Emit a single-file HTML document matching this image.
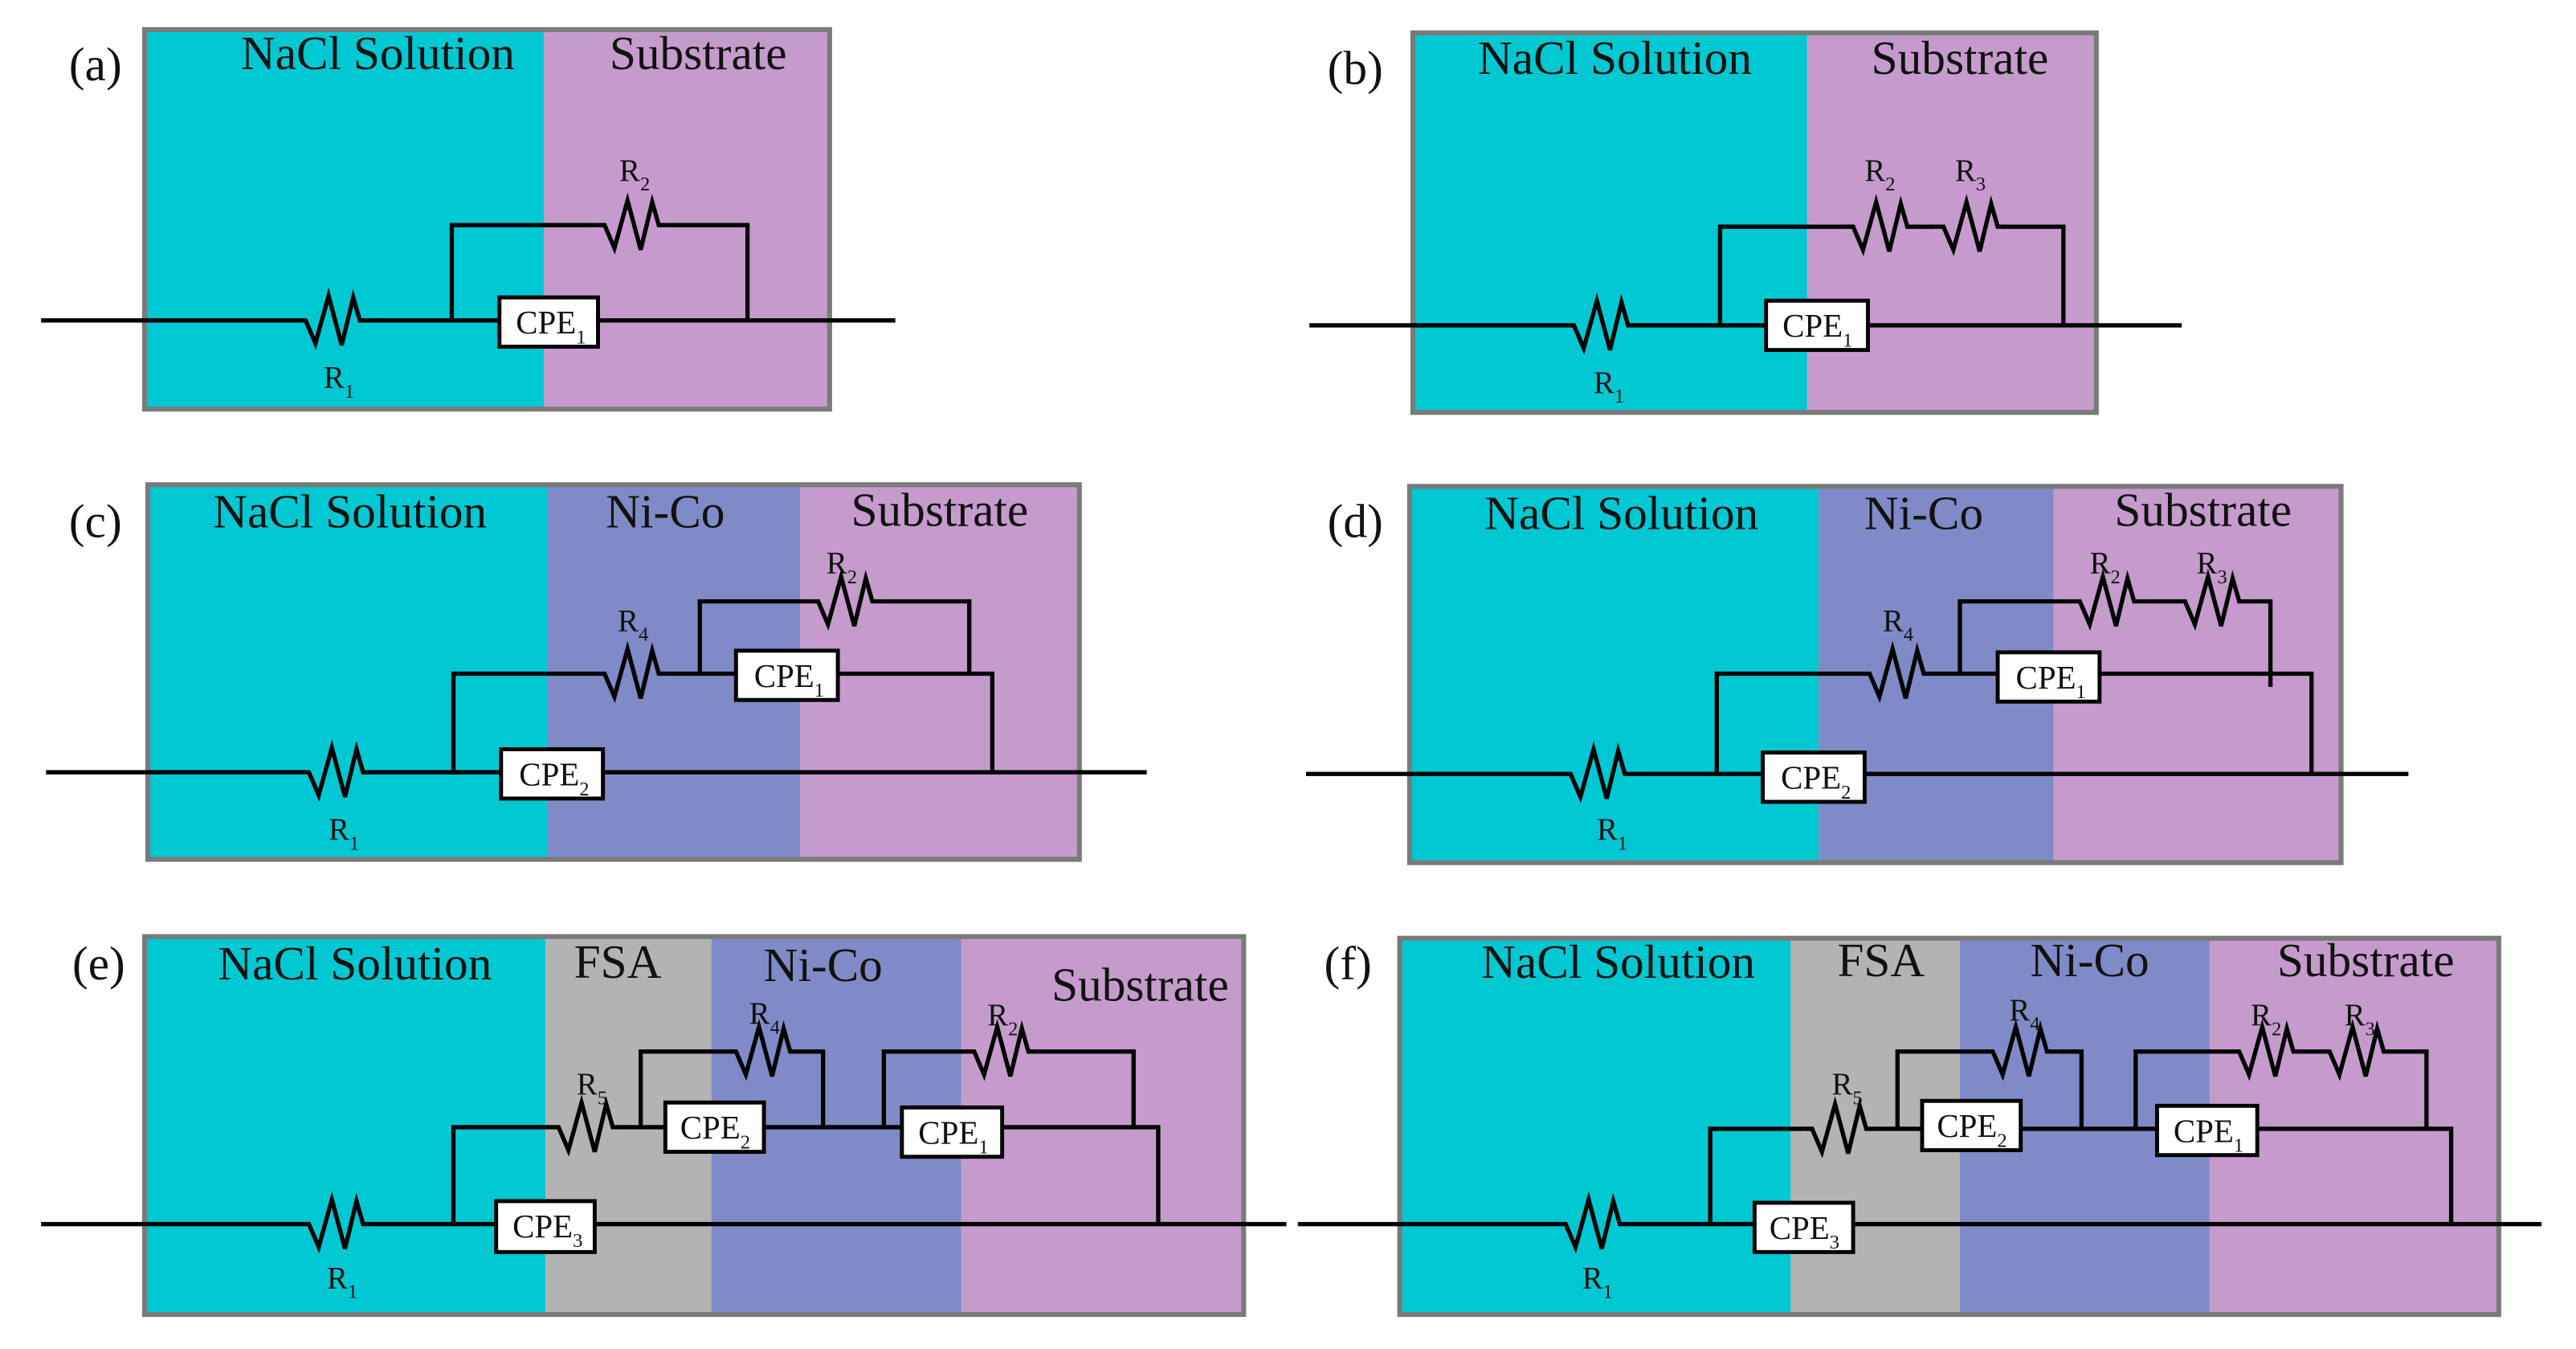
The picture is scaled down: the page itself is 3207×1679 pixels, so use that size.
<!DOCTYPE html>
<html><head><meta charset="utf-8"><style>
html,body{margin:0;padding:0;background:#fff;}
svg{display:block;}
text{font-family:"Liberation Serif",serif;fill:#111;}
.t{font-size:29px;}
.r{font-size:19px;}
.s{font-size:12px;}
.c{font-size:20px;}
.w{stroke:#000;stroke-width:2.6;fill:none;stroke-linejoin:miter;}
.b{fill:#fff;stroke:#000;stroke-width:2.4;}
.f{fill:none;stroke:#7a7a7a;stroke-width:3;}
</style></head><body>
<svg width="3207" height="1679" viewBox="0 0 1568 821" preserveAspectRatio="none" xmlns="http://www.w3.org/2000/svg">
<defs>
<path id="z" d="M-22,0 L-17,0 L-11,14 L-3,-15 L5,15 L12,-14 L16,0 L22,0" style="stroke:#000;stroke-width:2.6;fill:none"/>
</defs>

<!-- (a) -->
<rect x="88" y="18" width="243" height="231" fill="#00c8d2"/>
<rect x="331" y="18" width="174" height="231" fill="#c59bcc"/>
<rect x="88" y="18" width="417" height="231" class="f"/>
<text x="42" y="49" class="t">(a)</text>
<text x="230" y="42" class="t" text-anchor="middle">NaCl Solution</text>
<text x="425" y="42" class="t" text-anchor="middle">Substrate</text>
<path class="w" d="M25,195 H181 M225,195 H304 M364,195 H545 M275,195 V137 H363 M407,137 H455 V195"/>
<use href="#z" x="203" y="195"/><use href="#z" x="385" y="137"/>
<rect class="b" x="304" y="181" width="60" height="30"/><text x="314" y="203" class="c">CPE<tspan class="s" dy="6">1</tspan></text>
<text x="197" y="236" class="r">R<tspan class="s" dy="6">1</tspan></text>
<text x="377" y="110" class="r">R<tspan class="s" dy="6">2</tspan></text>

<!-- (b) -->
<rect x="860" y="20" width="240" height="231" fill="#00c8d2"/>
<rect x="1100" y="20" width="176" height="231" fill="#c59bcc"/>
<rect x="860" y="20" width="416" height="231" class="f"/>
<text x="808" y="51" class="t">(b)</text>
<text x="983" y="45" class="t" text-anchor="middle">NaCl Solution</text>
<text x="1193" y="45" class="t" text-anchor="middle">Substrate</text>
<path class="w" d="M797,198 H953 M997,198 H1075 M1137,198 H1328 M1047,198 V138 H1123 M1167,138 H1178 M1222,138 H1256 V198"/>
<use href="#z" x="975" y="198"/><use href="#z" x="1145" y="138"/><use href="#z" x="1200" y="138"/>
<rect class="b" x="1075" y="183" width="62" height="30"/><text x="1085" y="205" class="c">CPE<tspan class="s" dy="6">1</tspan></text>
<text x="970" y="239" class="r">R<tspan class="s" dy="6">1</tspan></text>
<text x="1135" y="110" class="r">R<tspan class="s" dy="6">2</tspan></text>
<text x="1190" y="110" class="r">R<tspan class="s" dy="6">3</tspan></text>

<!-- (c) -->
<rect x="90" y="295" width="243" height="228" fill="#00c8d2"/>
<rect x="333" y="295" width="154" height="228" fill="#7f8ac6"/>
<rect x="487" y="295" width="170" height="228" fill="#c59bcc"/>
<rect x="90" y="295" width="567" height="228" class="f"/>
<text x="42" y="327" class="t">(c)</text>
<text x="213" y="321" class="t" text-anchor="middle">NaCl Solution</text>
<text x="405" y="321" class="t" text-anchor="middle">Ni-Co</text>
<text x="572" y="320" class="t" text-anchor="middle">Substrate</text>
<path class="w" d="M28,470 H183 M227,470 H305 M367,470 H698 M276,470 V410 H363 M407,410 H448 M510,410 H604 V470 M426,410 V366 H493 M537,366 H590 V410"/>
<use href="#z" x="205" y="470"/><use href="#z" x="385" y="410"/><use href="#z" x="515" y="366"/>
<rect class="b" x="448" y="396" width="62" height="30"/><text x="459" y="418" class="c">CPE<tspan class="s" dy="6">1</tspan></text>
<rect class="b" x="305" y="456" width="62" height="30"/><text x="316" y="478" class="c">CPE<tspan class="s" dy="6">2</tspan></text>
<text x="200" y="511" class="r">R<tspan class="s" dy="6">1</tspan></text>
<text x="376" y="384" class="r">R<tspan class="s" dy="6">4</tspan></text>
<text x="503" y="349" class="r">R<tspan class="s" dy="6">2</tspan></text>

<!-- (d) -->
<rect x="858" y="296" width="249" height="229" fill="#00c8d2"/>
<rect x="1107" y="296" width="143" height="229" fill="#7f8ac6"/>
<rect x="1250" y="296" width="175" height="229" fill="#c59bcc"/>
<rect x="858" y="296" width="567" height="229" class="f"/>
<text x="808" y="327" class="t">(d)</text>
<text x="987" y="322" class="t" text-anchor="middle">NaCl Solution</text>
<text x="1171" y="322" class="t" text-anchor="middle">Ni-Co</text>
<text x="1341" y="320" class="t" text-anchor="middle">Substrate</text>
<path class="w" d="M795,471 H951 M995,471 H1073 M1135,471 H1466 M1045,471 V410 H1133 M1177,410 H1216 M1278,410 H1407 V471 M1193,410 V366 H1261 M1305,366 H1325 M1369,366 H1382 V418"/>
<use href="#z" x="973" y="471"/><use href="#z" x="1155" y="410"/><use href="#z" x="1283" y="366"/><use href="#z" x="1347" y="366"/>
<rect class="b" x="1216" y="397" width="62" height="30"/><text x="1227" y="419" class="c">CPE<tspan class="s" dy="6">1</tspan></text>
<rect class="b" x="1073" y="458" width="62" height="30"/><text x="1084" y="480" class="c">CPE<tspan class="s" dy="6">2</tspan></text>
<text x="972" y="511" class="r">R<tspan class="s" dy="6">1</tspan></text>
<text x="1146" y="384" class="r">R<tspan class="s" dy="6">4</tspan></text>
<text x="1272" y="349" class="r">R<tspan class="s" dy="6">2</tspan></text>
<text x="1337" y="349" class="r">R<tspan class="s" dy="6">3</tspan></text>

<!-- (e) -->
<rect x="88" y="570" width="244" height="230" fill="#00c8d2"/>
<rect x="332" y="570" width="101" height="230" fill="#b3b3b3"/>
<rect x="433" y="570" width="152" height="230" fill="#7f8ac6"/>
<rect x="585" y="570" width="172" height="230" fill="#c59bcc"/>
<rect x="88" y="570" width="669" height="230" class="f"/>
<text x="44" y="596" class="t">(e)</text>
<text x="216" y="596" class="t" text-anchor="middle">NaCl Solution</text>
<text x="376" y="595" class="t" text-anchor="middle">FSA</text>
<text x="501" y="597" class="t" text-anchor="middle">Ni-Co</text>
<text x="694" y="609" class="t" text-anchor="middle">Substrate</text>
<path class="w" d="M25,745 H183 M227,745 H302 M362,745 H783 M276,745 V686 H335 M379,686 H405 M465,686 H549 M610,686 H705 V745 M390,686 V640 H443 M487,640 H501 V686 M538,686 V640 H588 M632,640 H690 V686"/>
<use href="#z" x="205" y="745"/><use href="#z" x="357" y="686"/><use href="#z" x="465" y="640"/><use href="#z" x="610" y="640"/>
<rect class="b" x="405" y="671" width="60" height="30"/><text x="414" y="693" class="c">CPE<tspan class="s" dy="6">2</tspan></text>
<rect class="b" x="549" y="674" width="61" height="30"/><text x="559" y="696" class="c">CPE<tspan class="s" dy="6">1</tspan></text>
<rect class="b" x="302" y="731" width="60" height="31" /><text x="312" y="753" class="c">CPE<tspan class="s" dy="6">3</tspan></text>
<text x="199" y="784" class="r">R<tspan class="s" dy="6">1</tspan></text>
<text x="351" y="666" class="r">R<tspan class="s" dy="6">5</tspan></text>
<text x="456" y="623" class="r">R<tspan class="s" dy="6">4</tspan></text>
<text x="601" y="624" class="r">R<tspan class="s" dy="6">2</tspan></text>

<!-- (f) -->
<rect x="852" y="571" width="238" height="229" fill="#00c8d2"/>
<rect x="1090" y="571" width="103" height="229" fill="#b3b3b3"/>
<rect x="1193" y="571" width="152" height="229" fill="#7f8ac6"/>
<rect x="1345" y="571" width="176" height="229" fill="#c59bcc"/>
<rect x="852" y="571" width="669" height="229" class="f"/>
<text x="806" y="596" class="t">(f)</text>
<text x="985" y="595" class="t" text-anchor="middle">NaCl Solution</text>
<text x="1145" y="594" class="t" text-anchor="middle">FSA</text>
<text x="1272" y="594" class="t" text-anchor="middle">Ni-Co</text>
<text x="1440" y="594" class="t" text-anchor="middle">Substrate</text>
<path class="w" d="M790,745 H948 M992,745 H1068 M1128,745 H1547 M1041,745 V687 H1098 M1142,687 H1170 M1230,687 H1313 M1374,687 H1492 V745 M1155,687 V640 H1208 M1252,640 H1267 V687 M1300,687 V640 H1358 M1402,640 H1413 M1457,640 H1477 V687"/>
<use href="#z" x="970" y="745"/><use href="#z" x="1120" y="687"/><use href="#z" x="1230" y="640"/><use href="#z" x="1380" y="640"/><use href="#z" x="1435" y="640"/>
<rect class="b" x="1170" y="670" width="60" height="30"/><text x="1179" y="692" class="c">CPE<tspan class="s" dy="6">2</tspan></text>
<rect class="b" x="1313" y="673" width="61" height="30"/><text x="1323" y="695" class="c">CPE<tspan class="s" dy="6">1</tspan></text>
<rect class="b" x="1068" y="732" width="60" height="30"/><text x="1077" y="754" class="c">CPE<tspan class="s" dy="6">3</tspan></text>
<text x="963" y="784" class="r">R<tspan class="s" dy="6">1</tspan></text>
<text x="1115" y="666" class="r">R<tspan class="s" dy="6">5</tspan></text>
<text x="1223" y="621" class="r">R<tspan class="s" dy="6">4</tspan></text>
<text x="1370" y="624" class="r">R<tspan class="s" dy="6">2</tspan></text>
<text x="1427" y="624" class="r">R<tspan class="s" dy="6">3</tspan></text>
</svg>
</body></html>
